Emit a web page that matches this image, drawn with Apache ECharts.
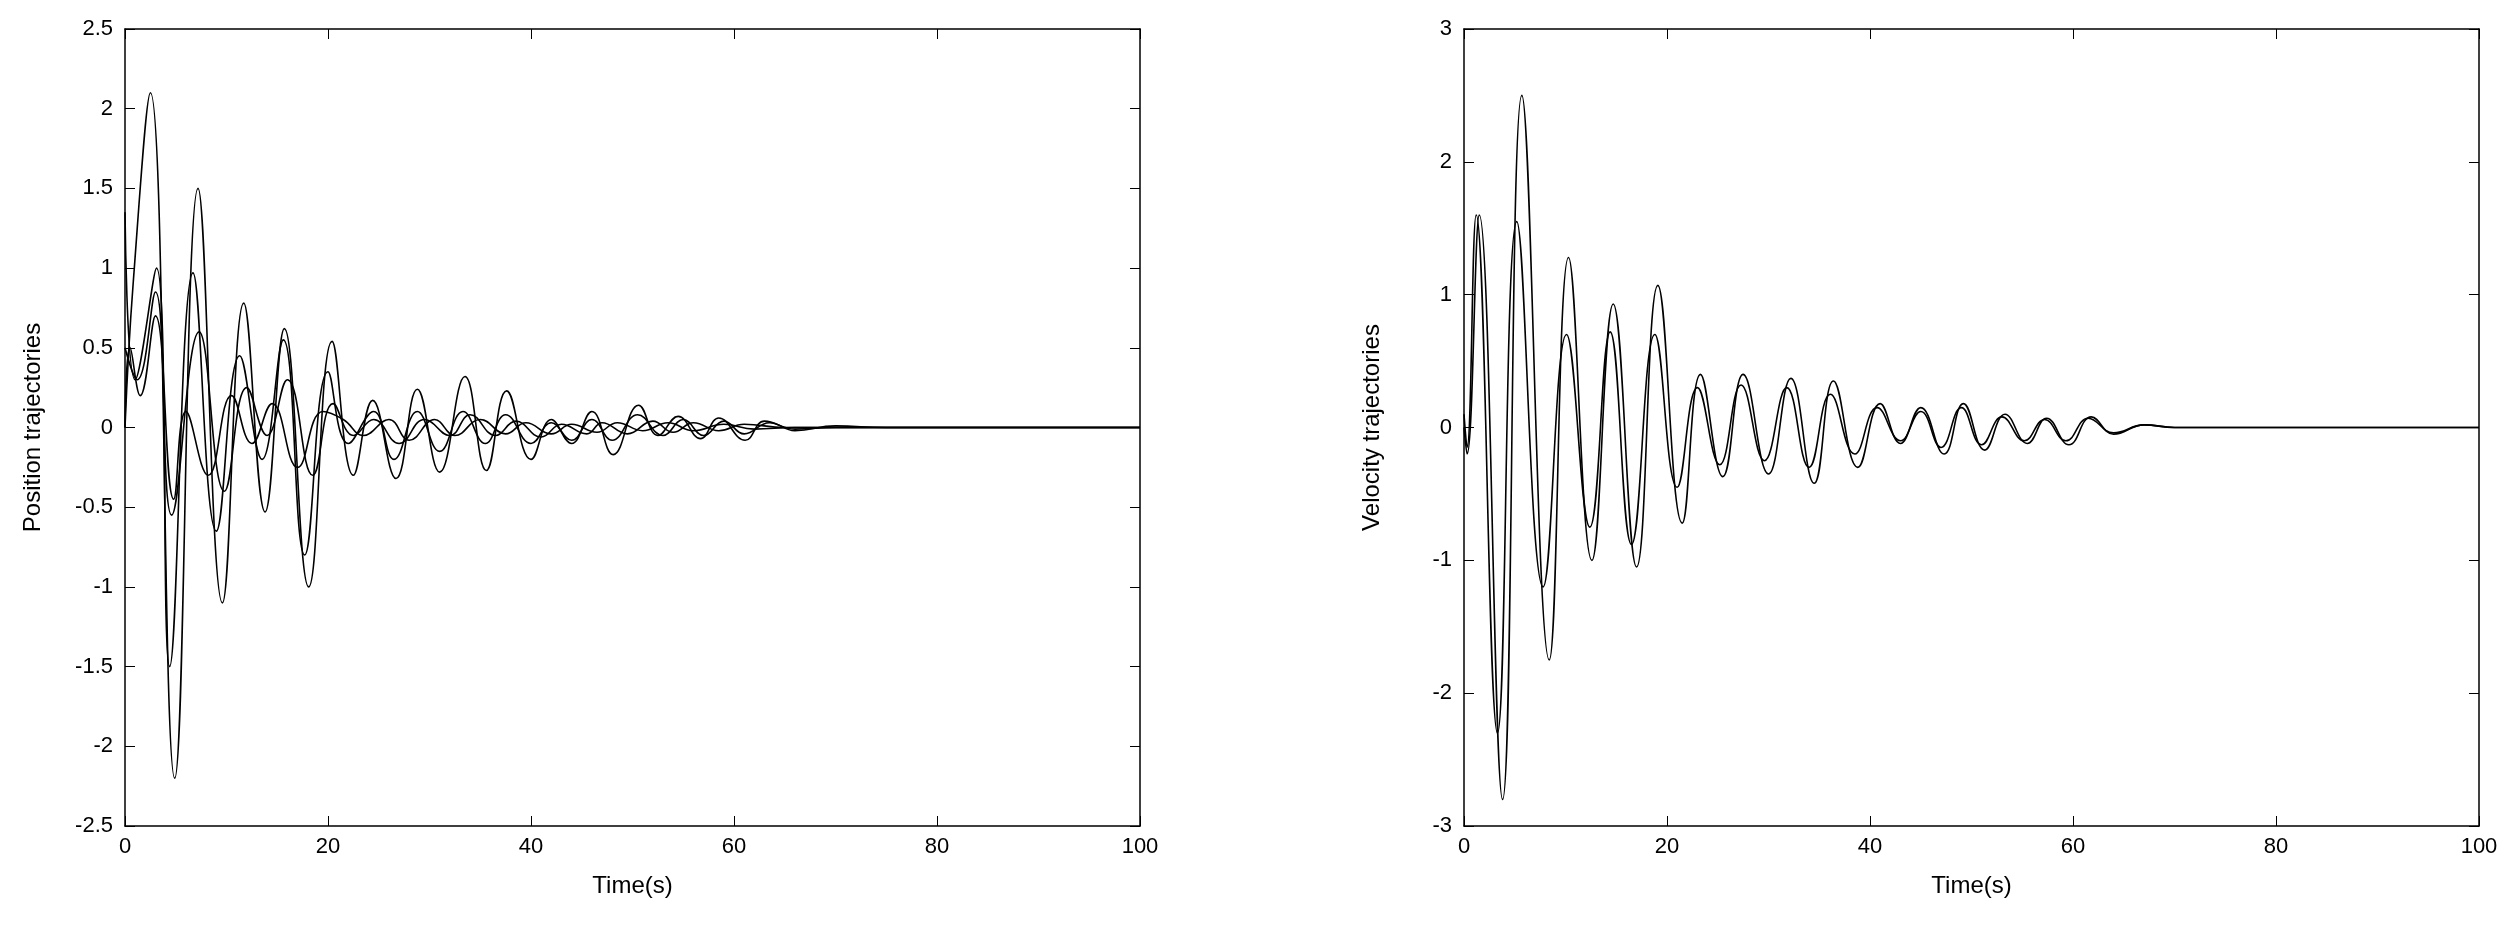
<!DOCTYPE html>
<html>
<head>
<meta charset="utf-8">
<script src="https://cdn.jsdelivr.net/npm/echarts@6/dist/echarts.min.js"></script>
<style>
html, body {margin: 0; padding: 0; background: #fff;}
#chart {width: 2519px; height: 927px;}
</style>
</head>
<body>
<div id="chart"></div>
<script>
// position trajectories, [time, value] extrema
const posA = [[0,0],[0.8,0.9],[2.5,2.1],[4.9,-2.2],[7.2,1.5],[9.6,-1.1],[11.7,0.78],[13.8,-0.53],[15.7,0.62],[18.1,-1.0],[20.4,0.54],[22.5,-0.3],[24.4,0.17],[26.7,-0.32],[28.8,0.24],[31,-0.28],[33.5,0.32],[35.6,-0.27],[37.6,0.23],[40,-0.2],[42,0.05],[44,-0.1],[46,0.1],[48.1,-0.17],[50.6,0.14],[52.5,-0.05],[54.5,0.07],[56.7,-0.07],[58.5,0.06],[61.1,-0.08],[63,0.04],[66,-0.01],[70,0],[100,0]];
const posB = [[0,1.35],[1,0.3],[3.1,1.0],[4.4,-1.5],[6.7,0.97],[9.0,-0.65],[11.3,0.45],[13.5,-0.2],[15.6,0.55],[17.7,-0.8],[20,0.35],[22,-0.1],[24.5,0.1],[26.5,-0.2],[28.8,0.1],[31,-0.15],[33.3,0.1],[35.5,-0.1],[37.5,0.08],[40,-0.1],[42,0.03],[44,-0.08],[46,0.05],[48,-0.08],[50.5,0.08],[53,-0.05],[55,0.05],[57,-0.05],[59,0.04],[61,-0.04],[63.5,0.03],[66,-0.02],[70,0.01],[75,0],[100,0]];
const posC = [[0,0.5],[1.2,0.3],[3,0.85],[4.6,-0.55],[7.3,0.6],[9.8,-0.4],[12,0.25],[14,-0.05],[16,0.3],[18.5,-0.3],[20.5,0.15],[22.5,-0.05],[24.5,0.05],[27,-0.1],[29.5,0.05],[32,-0.05],[34,0.08],[36.5,-0.05],[38.5,0.04],[41,-0.06],[43,0.02],[45.5,-0.04],[47,0.03],[49.5,-0.04],[52,0.04],[54,-0.03],[56,0.03],[58.5,-0.02],[61,0.02],[65,0],[100,0]];
const posD = [[0,0],[0.5,0.5],[1.5,0.2],[3,0.7],[4.8,-0.45],[6,0.1],[8.2,-0.3],[10.5,0.2],[12.5,-0.1],[14.5,0.15],[17,-0.25],[19.5,0.1],[21.5,0.05],[23.5,-0.05],[26,0.05],[28,-0.08],[30.5,0.05],[32.5,-0.05],[35,0.05],[37.5,-0.04],[39.5,0.03],[42,-0.04],[44,0.02],[46.5,-0.03],[48.5,0.03],[51,-0.02],[53.5,0.03],[56,-0.02],[59,0.02],[62,-0.01],[66,0],[100,0]];

// velocity trajectories
const velA = [[0,0],[0.3,-0.2],[1.5,1.6],[3.8,-2.8],[5.7,2.5],[8.4,-1.75],[10.3,1.28],[12.6,-1.0],[14.7,0.93],[17,-1.05],[19.1,1.07],[21.5,-0.72],[23.3,0.4],[25.5,-0.37],[27.5,0.4],[30,-0.35],[32.2,0.37],[34.5,-0.42],[36.4,0.35],[38.8,-0.3],[41,0.18],[43,-0.12],[45,0.15],[47.3,-0.2],[49.2,0.18],[51.3,-0.17],[53.3,0.1],[55.5,-0.12],[57.4,0.07],[59.6,-0.13],[61.8,0.08],[64,-0.05],[67,0.02],[70,0],[100,0]];
const velB = [[0,0.1],[0.3,-0.15],[1.2,1.6],[3.3,-2.3],[5.2,1.55],[7.8,-1.2],[10.1,0.7],[12.4,-0.75],[14.4,0.72],[16.5,-0.88],[18.8,0.7],[21,-0.45],[23,0.3],[25.2,-0.28],[27.3,0.32],[29.6,-0.25],[31.8,0.3],[34,-0.3],[36.1,0.25],[38.5,-0.2],[40.7,0.15],[43,-0.1],[45,0.12],[47,-0.15],[49,0.15],[51,-0.13],[53,0.08],[55.2,-0.1],[57.2,0.06],[59.3,-0.1],[61.5,0.07],[64,-0.04],[67,0.02],[70,0],[100,0]];

const posTicks = [-2.5, -2, -1.5, -1, -0.5, 0, 0.5, 1, 1.5, 2, 2.5];
const velTicks = [-3, -2, -1, 0, 1, 2, 3];

const font = 'Liberation Sans';
const chart = echarts.init(document.getElementById('chart'));

function xAxes(gridIndex) {
    return [
        {
            type: 'value', gridIndex: gridIndex, min: 0, max: 100, interval: 20,
            name: 'Time(s)', nameLocation: 'middle', nameGap: 48,
            nameTextStyle: {color: '#000', fontFamily: font, fontSize: 24},
            axisLine: {onZero: false, lineStyle: {color: '#000', width: 1.5}},
            axisTick: {inside: true, length: 10, lineStyle: {color: '#000'}},
            axisLabel: {color: '#000', fontFamily: font, fontSize: 22, margin: 10},
            splitLine: {show: false}
        },
        {
            type: 'value', gridIndex: gridIndex, position: 'top', min: 0, max: 100, interval: 20,
            axisLine: {onZero: false, lineStyle: {color: '#000', width: 1.5}},
            axisTick: {inside: true, length: 10, lineStyle: {color: '#000'}},
            axisLabel: {show: false}, splitLine: {show: false}
        }
    ];
}

function yAxes(gridIndex, name, min, max, step, ticks) {
    return [
        {
            type: 'value', gridIndex: gridIndex, min: min, max: max, interval: step,
            name: name, nameLocation: 'middle', nameGap: 80,
            nameTextStyle: {color: '#000', fontFamily: font, fontSize: 24},
            axisLine: {onZero: false, lineStyle: {color: '#000', width: 1.5}},
            axisTick: {inside: true, length: 10, lineStyle: {color: '#000'}},
            axisLabel: {color: '#000', fontFamily: font, fontSize: 22, margin: 12,
                formatter: v => ticks.includes(v) ? String(v) : ''},
            splitLine: {show: false}
        },
        {
            type: 'value', gridIndex: gridIndex, position: 'right', min: min, max: max, interval: step,
            axisLine: {onZero: false, lineStyle: {color: '#000', width: 1.5}},
            axisTick: {inside: true, length: 10, lineStyle: {color: '#000'}},
            axisLabel: {show: false}, splitLine: {show: false}
        }
    ];
}

function line(data, xi, yi) {
    return {
        type: 'line', data: data, xAxisIndex: xi, yAxisIndex: yi,
        smooth: 0.45, showSymbol: false, animation: false,
        lineStyle: {color: '#000', width: 1.6}
    };
}

chart.setOption({
    backgroundColor: '#fff',
    animation: false,
    grid: [
        {left: 125, width: 1015, top: 29, bottom: 101},
        {left: 1464, width: 1015, top: 29, bottom: 101}
    ],
    xAxis: [...xAxes(0), ...xAxes(1)],
    yAxis: [
        ...yAxes(0, 'Position trajectories', -2.5, 2.5, 0.5, posTicks),
        ...yAxes(1, 'Velocity trajectories', -3, 3, 1, velTicks)
    ],
    series: [
        line(posA, 0, 0), line(posB, 0, 0), line(posC, 0, 0), line(posD, 0, 0),
        line(velA, 2, 2), line(velB, 2, 2)
    ]
});
</script>
</body>
</html>
